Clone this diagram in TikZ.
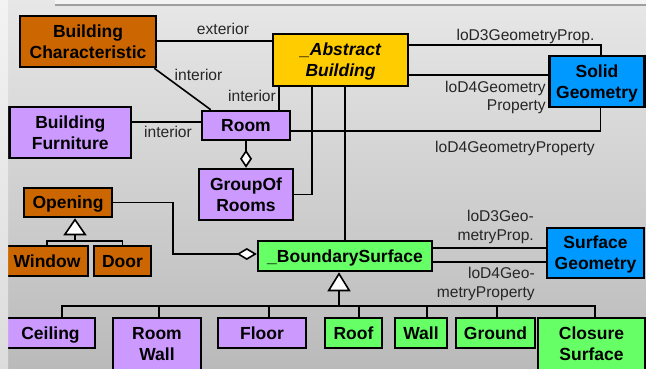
\documentclass[tikz,border=0pt]{standalone}
\usepackage{fontspec}
\setmainfont{Liberation Sans}
\usetikzlibrary{arrows.meta,calc}

\definecolor{bgtop}{RGB}{231,231,231}
\definecolor{bgbot}{RGB}{186,186,186}
\definecolor{striptop}{RGB}{243,243,243}
\definecolor{stripbot}{RGB}{220,220,220}
\definecolor{ochre}{RGB}{204,102,0}
\definecolor{gold}{RGB}{255,204,0}
\definecolor{lilac}{RGB}{204,153,255}
\definecolor{azure}{RGB}{0,153,255}
\definecolor{lime}{RGB}{102,255,102}

\tikzset{
  cls/.style={draw=black, line width=2.5pt, inner sep=0pt, align=center,
    font=\fontsize{17.5}{21}\selectfont\bfseries},
  one/.style={text height=12.5pt, text depth=0pt},
  wh/.style 2 args={minimum width=#1pt, minimum height=#2pt},
  lbl/.style={font=\fontsize{15.6}{18}\selectfont, text=black!85, inner sep=0pt},
  conn/.style={draw=black, line width=1.6pt},
  aggr/.style={conn, -{Diamond[fill=white, length=#1pt, width=12pt]}},
  gen/.style={conn, -{Triangle[fill=white, length=#1pt, width=23pt]}},
}

\begin{document}
\begin{tikzpicture}[x=1pt, y=-1pt]
  \useasboundingbox (0,0) rectangle (646,369);

  % backdrop
  \shade[top color=bgtop, bottom color=bgbot] (0,0) rectangle (646,369);
  \fill[striptop] (55,0) rectangle (646,4);
  \draw[gray!75, line width=1.6pt] (55,4.8) -- (646,4.8);

  % classes
  \node[cls, fill=ochre, wh={136}{51}] (bc)   at (88,41.5)   {Building\\Characteristic};
  \node[cls, fill=gold,  wh={135}{52}, font=\fontsize{17.5}{21}\selectfont\bfseries\itshape]
                                          (ab)   at (340.5,60)  {\_Abstract\\\smash{Building}};
  \node[cls, fill=lilac, wh={121.5}{51}] (bf)  at (70.25,132.5) {Building\\Furniture};
  \node[cls, one, fill=lilac, wh={88}{29}]  (room) at (246,125.5)  {Room};
  \node[cls, fill=lilac, wh={94}{51}]  (gor)  at (246,194.5)  {GroupOf\\Rooms};
  \node[cls, fill=azure, wh={95}{51}]  (sg)   at (597,81.5)   {Solid\\\smash{Geometry}};
  \node[cls, one, fill=ochre, wh={88}{29}]  (op)   at (68,202.5)   {Opening};
  \node[cls, one, fill=ochre, wh={82}{30}]  (win)  at (47,261)     {Window};
  \node[cls, one, fill=ochre, wh={57}{30}]  (door) at (122.5,261)  {Door};
  \node[cls, one, fill=lime,  wh={174}{30}] (bs)   at (345,256)    {\_BoundarySurface};
  \node[cls, fill=azure, wh={97}{50}]  (sfg)  at (595.5,253)  {Surface\\\smash{Geometry}};
  \node[cls, one, fill=lilac, wh={89}{30}]  (ceil) at (50.5,333)   {Ceiling};
  \node[cls, fill=lilac, wh={88}{52}]  (rw)   at (157,344)    {Room\\Wall};
  \node[cls, one, fill=lilac, wh={88}{30}]  (fl)   at (262,333)    {Floor};
  \node[cls, one, fill=lime,  wh={57}{30}]  (roof) at (353.5,333)  {Roof};
  \node[cls, one, fill=lime,  wh={52}{30}]  (wall) at (421,333)    {Wall};
  \node[cls, one, fill=lime,  wh={79}{30}]  (gr)   at (495.5,333)  {Ground};
  \node[cls, fill=lime,  wh={107}{52}] (cs)   at (591.5,344)  {Closure\\Surface};

  % associations around the building
  \draw[conn] (bc.east |- 0,41) -- (ab.west |- 0,41);
  \draw[conn] ([xshift=-3pt]bc.south east) -- ([xshift=10pt]room.north west);
  \draw[conn] ([xshift=-12pt]room.north east) -- ([xshift=-12pt]room.north east |- ab.south);
  \draw[conn] ([yshift=10.5pt]bf.east) -- ([yshift=10.5pt]bf.east -| room.west);
  \draw[aggr=18] (room.south) -- (gor.north);
  \draw[conn] (gor.east) -| ([xshift=-28.5pt]ab.south);
  \draw[conn] (bs.north |- ab.south) -- (bs.north);

  % geometry properties
  \draw[conn] ([yshift=15pt]ab.east) -| ([xshift=4pt]sg.north);
  \draw[conn] ([yshift=-15pt]ab.east) -- ([yshift=-15pt]ab.east -| sg.west);
  \draw[conn] ([yshift=-5.5pt]room.east) -| ([xshift=3.5pt]sg.south);
  \draw[conn] ([yshift=8pt]bs.east) -- ([yshift=8pt]bs.east -| sfg.west);
  \draw[conn] ([yshift=-6pt]bs.east) -- ([yshift=-6pt]bs.east -| sfg.west);

  % openings
  \coordinate (jn) at (173,254);
  \draw[aggr=20] (op.east) -| (jn) -- ([yshift=2pt]bs.west);
  \coordinate (opbar) at (75,241);
  \draw[conn] (win.north) |- (opbar) -| (door.north);
  \draw[gen=17] (opbar) -- ([xshift=7pt]op.south);

  % boundary surface specialisations
  \coordinate (bsbar) at (339,306);
  \draw[gen=19] (bsbar) -- ([xshift=-6pt]bs.south);
  \draw[conn] ([xshift=11.5pt]ceil.north) |- (bsbar);
  \draw[conn] ([xshift=2pt]rw.north) |- (bsbar);
  \draw[conn] ([xshift=7pt]fl.north) |- (bsbar);
  \draw[conn] ([xshift=5.5pt]roof.north) |- (bsbar);
  \draw[conn] ([xshift=6pt]wall.north) |- (bsbar);
  \draw[conn] ([xshift=1.5pt]gr.north) |- (bsbar);
  \draw[conn] ([xshift=3.5pt]cs.north) |- (bsbar);

  % role names
  \node[lbl, anchor=base] (lext)  at (223,35)  {exterior};
  \node[lbl, anchor=base] (lint1) at (198.5,81) {interior};
  \node[lbl, anchor=base] (lint2) at (252,102) {interior};
  \node[lbl, anchor=base] (lint3) at (168,138) {interior};
  \node[lbl, anchor=base] (ls3)   at (525.5,41) {loD3GeometryProp.};
  \node[lbl, align=right, anchor=north east] (ls4) at (546,81) {loD4Geometry\\Property};
  \node[lbl, anchor=base] (lr4)   at (515,152) {loD4GeometryProperty};
  \node[lbl, align=right, anchor=north east, font=\fontsize{15.6}{19}\selectfont] (lb3) at (534,210) {loD3Geo-\\metryProp.};
  \node[lbl, align=right, anchor=north east, font=\fontsize{15.6}{19}\selectfont] (lb4) at (535,267) {loD4Geo-\\metryProperty};

  % left margin strip
  \shade[top color=striptop, bottom color=stripbot] (0,0) rectangle (8,369);
\end{tikzpicture}
\end{document}
